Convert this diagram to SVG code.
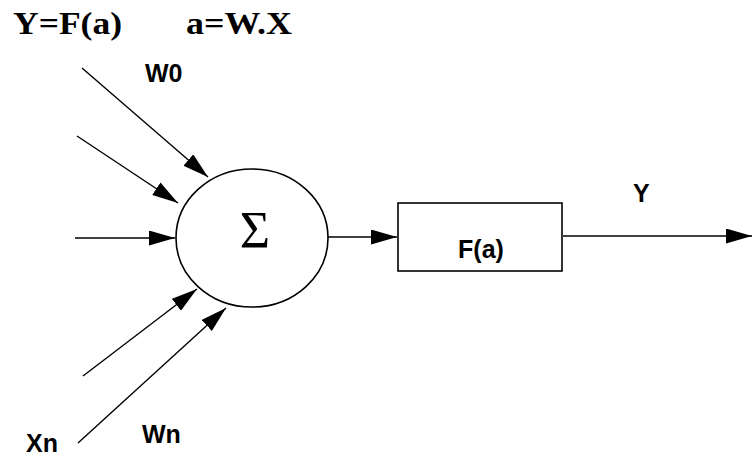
<svg xmlns="http://www.w3.org/2000/svg" width="752" height="459" viewBox="0 0 752 459">
  <style>
    .title { font-family: "Liberation Serif", "Times New Roman", serif; font-weight: bold; font-size: 32px; fill: #000; }
    .lbl { font-family: "Liberation Sans", Arial, sans-serif; font-weight: bold; font-size: 25px; fill: #000; }
    .conn { stroke: #000; stroke-width: 1.4; fill: none; }
    .shape { stroke: #000; stroke-width: 1.6; fill: #fff; }
  </style>
  <defs>
    <marker id="arrow" markerUnits="userSpaceOnUse" markerWidth="27" markerHeight="16" refX="26" refY="7.5" orient="auto">
      <path d="M0,0 L26,7.5 L0,15 z" fill="#000"/>
    </marker>
  </defs>
  <rect width="752" height="459" fill="#fff"/>
  <g id="title">
    <text class="title" x="13" y="34" textLength="109" lengthAdjust="spacingAndGlyphs">Y=F(a)</text>
    <text class="title" x="186" y="34" textLength="106" lengthAdjust="spacingAndGlyphs">a=W.X</text>
  </g>
  <g id="connectors">
    <line class="conn" x1="82" y1="68" x2="208" y2="177" marker-end="url(#arrow)"/>
    <line class="conn" x1="77" y1="136" x2="178" y2="203" marker-end="url(#arrow)"/>
    <line class="conn" x1="75" y1="238" x2="175" y2="238" marker-end="url(#arrow)"/>
    <line class="conn" x1="83" y1="376" x2="197" y2="289" marker-end="url(#arrow)"/>
    <line class="conn" x1="78" y1="443" x2="226" y2="308" marker-end="url(#arrow)"/>
    <line class="conn" x1="328" y1="237" x2="397" y2="237" marker-end="url(#arrow)"/>
    <line class="conn" x1="563" y1="236" x2="752" y2="236" marker-end="url(#arrow)"/>
  </g>
  <g id="sum">
    <ellipse class="shape" cx="252" cy="238" rx="76" ry="69"/>
    <text x="255" y="248" text-anchor="middle" font-family="Liberation Serif, serif" font-size="52">Σ</text>
  </g>
  <g id="activation">
    <rect class="shape" x="398" y="203" width="164" height="68"/>
    <text class="lbl" x="481" y="258" text-anchor="middle" font-size="22">F(a)</text>
  </g>
  <g id="labels">
    <text class="lbl" x="145" y="82">W0</text>
    <text class="lbl" x="142" y="443">Wn</text>
    <text class="lbl" x="26" y="452">Xn</text>
    <text class="lbl" x="633" y="202">Y</text>
  </g>
</svg>
